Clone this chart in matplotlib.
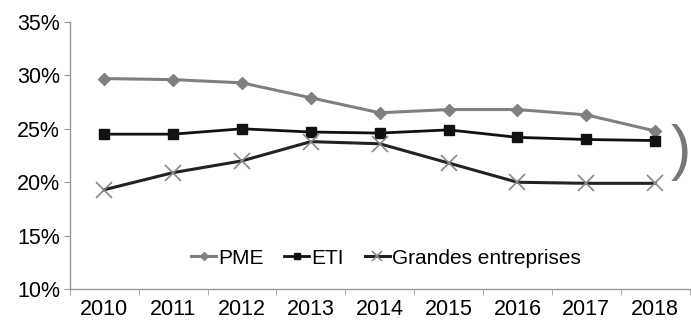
import matplotlib.pyplot as plt
import numpy as np

plt.rcParams['font.family'] = ['Liberation Sans', 'DejaVu Sans']

years = ['2010', '2011', '2012', '2013', '2014', '2015', '2016', '2017', '2018']
pme = [29.7, 29.6, 29.3, 27.9, 26.5, 26.8, 26.8, 26.3, 24.8]
eti = [24.5, 24.5, 25.0, 24.7, 24.6, 24.9, 24.2, 24.0, 23.9]
grandes = [19.3, 20.9, 22.0, 23.8, 23.6, 21.8, 20.0, 19.9, 19.9]

fig = plt.figure(figsize=(6.91, 3.22), dpi=100)
ax = fig.add_axes([0.101, 0.102, 0.897, 0.830])
x = np.arange(len(years))

ax.plot(x, pme, color='#808080', lw=2.2, marker='D', ms=6, label='PME')
ax.plot(x, eti, color='#111111', lw=2.0, marker='s', ms=6.5, label='ETI')
ax.plot(x, grandes, color='#222222', lw=2.2, marker='x', ms=11, mew=1.2,
        mec='#888888', label='Grandes entreprises')

ax.set_xlim(-0.5, len(years) - 0.5)
ax.set_ylim(10, 35)
ax.set_yticks(range(10, 36, 5))
ax.set_yticklabels([f'{v}%' for v in range(10, 36, 5)], fontsize=15.5)
ax.set_xticks(x)
ax.set_xticklabels(years, fontsize=15.5)
ax.set_xticks(np.arange(-0.5, len(years), 1), minor=True)
ax.tick_params(axis='x', which='major', length=0, pad=7)
ax.tick_params(axis='x', which='minor', length=4, color='#999999')
ax.tick_params(axis='y', length=4, color='#999999', pad=3)

for s in ['top', 'right']:
    ax.spines[s].set_visible(False)
for s in ['left', 'bottom']:
    ax.spines[s].set_color('#999999')
    ax.spines[s].set_linewidth(1.0)

ax.legend(loc='lower center', bbox_to_anchor=(0.51, 0.01), ncol=3, frameon=False,
          fontsize=15, handlelength=1.2, handletextpad=0.1, columnspacing=1.0,
          markerscale=0.7)

ax.text(0.985, 0.51, ')', transform=ax.transAxes, fontsize=44, color='#777777',
        ha='center', va='center')

fig.savefig('out.png', dpi=100)
